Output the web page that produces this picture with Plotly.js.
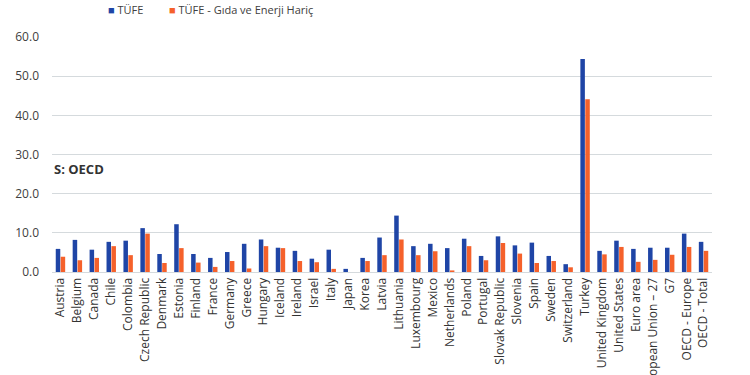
<!DOCTYPE html>
<html>
<head>
<meta charset="utf-8">
<script src="https://cdn.plot.ly/plotly-3.0.1.min.js"></script>
<style>html,body{margin:0;padding:0;background:#fff;}#chart{width:750px;height:375px;}</style>
</head>
<body>
<div id="chart"></div>
<script>
const categories = ["Austria","Belgium","Canada","Chile","Colombia","Czech Republic","Denmark","Estonia","Finland","France","Germany","Greece","Hungary","Iceland","Ireland","Israel","Italy","Japan","Korea","Latvia","Lithuania","Luxembourg","Mexico","Netherlands","Poland","Portugal","Slovak Republic","Slovenia","Spain","Sweden","Switzerland","Turkey","United Kingdom","United States","Euro area","European Union – 27","G7","OECD - Europe","OECD - Total"];
const tufe = [5.9,8.2,5.7,7.7,8.0,11.2,4.6,12.2,4.6,3.6,5.1,7.2,8.3,6.2,5.4,3.4,5.7,0.8,3.6,8.8,14.4,6.6,7.2,6.1,8.5,4.1,9.1,6.8,7.5,4.1,2.0,54.4,5.4,8.0,5.9,6.2,6.2,9.8,7.7];
const cekirdek = [3.9,3.0,3.6,6.6,4.3,9.8,2.3,6.1,2.4,1.3,2.8,0.9,6.6,6.1,2.8,2.5,0.8,0.0,2.8,4.3,8.3,4.3,5.3,0.4,6.6,3.0,7.4,4.7,2.3,2.8,1.2,44.1,4.5,6.4,2.6,3.1,4.4,6.4,5.4];
const seriesNames = ["TÜFE","TÜFE - Gıda ve Enerji Hariç"];
const seriesColors = ["#1f45a6","#f5612b"];
const yTicks = [0,10,20,30,40,50,60];

const font = "'Open Sans', 'Noto Sans', sans-serif";
const data = [
  {type:"bar", name:seriesNames[0], x:categories, y:tufe, marker:{color:seriesColors[0]}},
  {type:"bar", name:seriesNames[1], x:categories, y:cekirdek, marker:{color:seriesColors[1]}}
];
const legendX = [106, 167];
const legendAnn = seriesNames.map((n,i)=>({
  text:'<span style="color:'+seriesColors[i]+'">■</span> '+n,
  xref:"paper", yref:"paper", x:(legendX[i]-52)/660, y:1+(37-9)/235,
  xanchor:"left", yanchor:"middle", showarrow:false, font:{size:11, color:"#404040"}
}));
const layout = {
  width:750, height:375,
  margin:{l:52, r:38, t:37, b:103},
  paper_bgcolor:"#fff", plot_bgcolor:"#fff",
  font:{family:font, color:"#404040"},
  barmode:"group", bargap:0.42, bargroupgap:0.08,
  showlegend:false,
  xaxis:{type:"category", tickangle:-90, automargin:false, tickfont:{size:12, color:"#333"},
    showgrid:false, showline:true, linecolor:"#d5dadd", linewidth:1, ticks:""},
  yaxis:{range:[0,60], tickvals:yTicks, ticktext:yTicks.map(v=>v.toFixed(1)),
    tickfont:{size:12, color:"#404040"}, gridcolor:"#d5dadd", gridwidth:1,
    zeroline:false, showline:false, ticks:"", automargin:false, ticklabelstandoff:12},
  annotations:[{text:"<b>S: OECD</b>", xref:"paper", yref:"paper", x:0.0, y:0.44,
    xanchor:"left", yanchor:"middle", showarrow:false, font:{size:13, color:"#333"}}].concat(legendAnn)
};
Plotly.newPlot("chart", data, layout, {displayModeBar:false, staticPlot:true});
</script>
</body>
</html>
